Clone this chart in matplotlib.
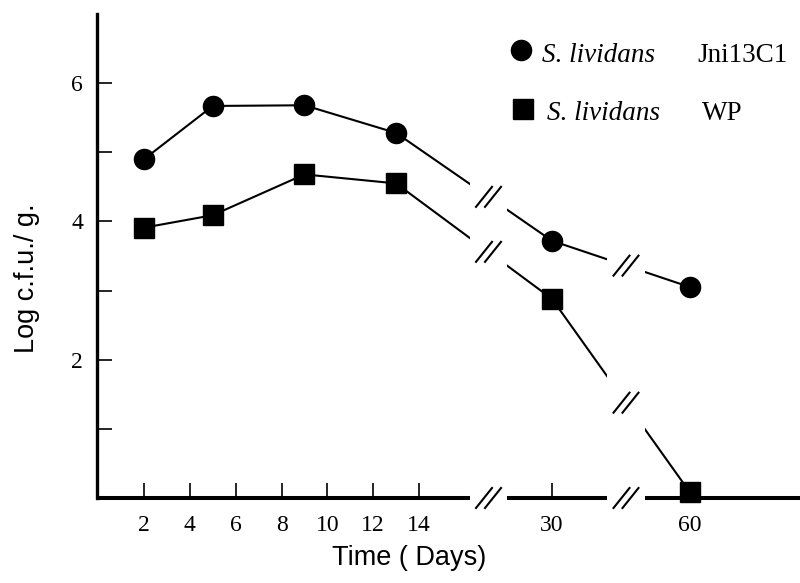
import numpy as np
import matplotlib
matplotlib.use('Agg')
import matplotlib.pyplot as plt
import matplotlib.transforms as mtransforms
from matplotlib.lines import Line2D

# ---------------- data ----------------
days = [2, 5, 9, 13, 30, 60]
jni13c1 = [4.90, 5.67, 5.68, 5.28, 3.72, 3.05]
wp = [3.91, 4.09, 4.68, 4.55, 2.88, 0.08]

x_ticks = [2, 4, 6, 8, 10, 12, 14, 30, 60]
x_ticklabels = ['2', '4', '6', '8', '10', '12', '14', '30', '60']
y_ticks = [1, 2, 3, 4, 5, 6]
y_ticklabels = ['', '2', '', '4', '', '6']
species = 'S. lividans'
strains = ['Jni13C1', 'WP']

# ---------------- layout ----------------
W, H = 800, 583
fig = plt.figure(figsize=(W / 100, H / 100), dpi=100)

# broken (piecewise linear) x scale: knots days -> pixel position
knot_days = np.array([-10.0, 0.0, 14.0, 30.0, 60.0, 120.0])
knot_px = np.array([-131.0, 98.2, 419.0, 552.0, 690.0, 966.0])


def fwd(d):
    return np.interp(d, knot_days, knot_px)


def inv(p):
    return np.interp(p, knot_px, knot_days)


ax_left, ax_right, ax_top, ax_bottom = 97, 800, 14, 498
ax = fig.add_axes([ax_left / W, 1 - ax_bottom / H,
                   (ax_right - ax_left) / W, (ax_bottom - ax_top) / H])
ax.set_xscale('function', functions=(fwd, inv))
ax.set_xlim(inv(ax_left), inv(ax_right))
ax.set_ylim(0, 7)

for s in ['top', 'right', 'bottom']:
    ax.spines[s].set_visible(False)
ax.spines['left'].set_linewidth(2.4)

serif = 'Liberation Serif'
sans = 'Liberation Sans'

ax.set_xticks(x_ticks)
ax.set_xticklabels(x_ticklabels, fontfamily=serif, fontsize=17)
ax.set_yticks(y_ticks)
ax.set_yticklabels(y_ticklabels, fontfamily=serif, fontsize=17)
ax.xaxis.set_minor_locator(matplotlib.ticker.NullLocator())
ax.tick_params(axis='both', direction='in', length=10.5, width=1.2)
ax.tick_params(axis='x', pad=12)
ax.tick_params(axis='y', pad=10)

# x axis baseline
ax.plot([inv(ax_left), inv(ax_right)], [0, 0], color='black', lw=2.9,
        solid_capstyle='butt', clip_on=False, zorder=2.5)

# series: lines (below gap masks) and markers (on top)
lw = 1.5
ms = 14.5
for ys, mk in ((jni13c1, 'o'), (wp, 's')):
    ax.plot(days, ys, color='black', lw=lw, zorder=3, clip_on=False)
    ax.plot(days, ys, color='black', lw=0, marker=mk, ms=ms, zorder=4, clip_on=False)

# gaps for axis breaks (pixel ranges)
gaps_px = [(470, 507), (607, 645)]
for a, b in gaps_px:
    ax.axvspan(inv(a), inv(b), ymin=-0.03, ymax=0.7, color='white',
               zorder=3.5, clip_on=False, lw=0)

fig.canvas.draw()


def break_mark(xc_px, yc_px):
    for off in (-4.5, 4.5):
        ln = Line2D([xc_px + off - 8, xc_px + off + 8], [yc_px - 10, yc_px + 10],
                    transform=mtransforms.IdentityTransform(), color='black',
                    lw=1.5, zorder=5)
        fig.add_artist(ln)


for a, b in gaps_px:
    xc = (a + b) / 2
    y0 = ax.transData.transform((inv(xc), 0))[1]
    break_mark(xc, y0)
    for ys in (jni13c1, wp):
        pts = ax.transData.transform(np.column_stack([days, ys]))
        yc = np.interp(xc, pts[:, 0], pts[:, 1])
        break_mark(xc, yc)

# legend (manual)
leg_rows = [(50, 61.7, 'o', 520.7, 542, 697), (109, 120, 's', 522.7, 547, 702)]
for (yc, yb, mk, xm, xs, xt), strain in zip(leg_rows, strains):
    fig.add_artist(Line2D([xm / W], [1 - yc / H], transform=fig.transFigure,
                          marker=mk, ms=ms, color='black', lw=0))
    fig.text(xs / W, 1 - yb / H, species, fontfamily=serif, style='italic',
             fontsize=19.5, va='baseline', ha='left')
    fig.text(xt / W, 1 - yb / H, strain, fontfamily=serif,
             fontsize=19.5, va='baseline', ha='left')

# axis labels
fig.text(27 / W, 1 - 278 / H, 'Log c.f.u./ g.', rotation=90, fontfamily=sans,
         fontsize=19.5, ha='center', va='center')
fig.text(409 / W, 1 - 565 / H, 'Time ( Days)', fontfamily=sans,
         fontsize=19.5, ha='center', va='baseline')

fig.savefig('out.png', dpi=100)
